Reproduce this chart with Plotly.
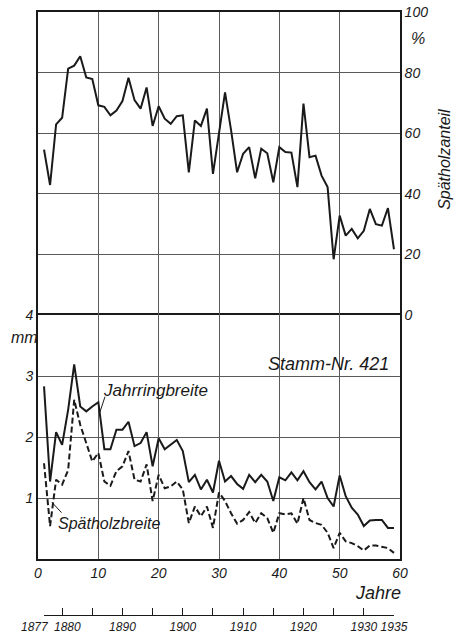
import plotly.graph_objects as go

# ---------------- data ----------------
jahre = list(range(1, 60))

spaetholzanteil = [54.6, 42.9, 62.9, 65.1, 81.3, 82.3, 85.4, 78.4, 77.9, 69.2,
                   68.7, 65.9, 67.5, 70.6, 78.3, 70.9, 68.1, 75.1, 62.4, 68.9,
                   64.8, 63.1, 65.6, 65.9, 47.1, 64.2, 62.4, 68.1, 46.6, 60.0,
                   73.5, 61.0, 47.1, 53.2, 55.4, 45.1, 54.9, 53.4, 43.8, 55.4,
                   53.8, 53.6, 42.2, 69.8, 52.1, 52.6, 46.0, 42.2, 18.4, 32.8,
                   26.2, 28.4, 25.3, 27.8, 35.0, 30.0, 29.5, 35.3, 21.7]

jahrringbreite = [2.83, 1.27, 2.08, 1.87, 2.45, 3.19, 2.50, 2.42, 2.50, 2.57,
                  1.80, 1.80, 2.12, 2.12, 2.25, 1.85, 1.90, 2.08, 1.52, 1.98,
                  1.80, 1.87, 1.95, 1.77, 1.26, 1.38, 1.14, 1.30, 1.09, 1.61,
                  1.27, 1.36, 1.23, 1.15, 1.38, 1.26, 1.38, 1.27, 0.95, 1.34,
                  1.29, 1.42, 1.29, 1.44, 1.26, 1.14, 1.27, 1.00, 0.86, 1.37,
                  1.03, 0.84, 0.73, 0.54, 0.63, 0.64, 0.64, 0.51, 0.51]

spaetholzbreite = [1.57, 0.54, 1.30, 1.22, 1.46, 2.61, 2.20, 1.90, 1.60, 1.74,
                   1.27, 1.20, 1.44, 1.52, 1.77, 1.30, 1.27, 1.55, 0.95, 1.38,
                   1.16, 1.19, 1.27, 1.14, 0.59, 0.86, 0.70, 0.86, 0.51, 1.09,
                   0.95, 0.75, 0.58, 0.64, 0.77, 0.59, 0.75, 0.67, 0.43, 0.75,
                   0.73, 0.75, 0.58, 1.00, 0.64, 0.59, 0.56, 0.43, 0.18, 0.43,
                   0.29, 0.26, 0.21, 0.14, 0.22, 0.22, 0.20, 0.18, 0.10]

jahre_ticks = [0, 10, 20, 30, 40, 50, 60]
mm_ticks = [1, 2, 3, 4]
prozent_ticks = [0, 20, 40, 60, 80, 100]
kalender_ticks = [1877, 1880, 1885, 1890, 1895, 1900, 1905, 1910, 1915, 1920, 1925, 1930, 1935]
kalender_labels = ["", "", "", "1890", "", "1900", "",
                   "1910", "", "1920", "", "1930", "1935"]
# the first two year labels are crowded, so they are set beside their ticks
kalender_extra = [1877, 1880]

# ---------------- style ----------------
FONT = "Liberation Sans, Arial, sans-serif"
INK = "#1a1a1a"
GRID = "#5a5a5a"

def f(size):
    return dict(family=FONT, size=size, color=INK, style="italic")

fig = go.Figure()
fig.add_trace(go.Scatter(x=jahre, y=spaetholzanteil, xaxis="x2", yaxis="y2", mode="lines",
                         line=dict(color=INK, width=2), hoverinfo="skip"))
fig.add_trace(go.Scatter(x=jahre, y=jahrringbreite, xaxis="x", yaxis="y", mode="lines",
                         line=dict(color=INK, width=2), hoverinfo="skip"))
fig.add_trace(go.Scatter(x=jahre, y=spaetholzbreite, xaxis="x", yaxis="y", mode="lines",
                         line=dict(color=INK, width=2, dash="6px,3px"), hoverinfo="skip"))
fig.add_trace(go.Scatter(x=[kalender_ticks[0], kalender_ticks[-1]], y=[0, 0], xaxis="x3", yaxis="y3",
                         mode="markers", marker=dict(opacity=0), hoverinfo="skip"))

H = 639
T, B = 12, 4
ph = H - T - B
def py(pix):
    return (H - B - pix) / ph

y_bottom = py(559)
y_mid = py(315)

grid = dict(showgrid=True, gridcolor=GRID, gridwidth=1, zeroline=False, ticks="", automargin=False)

fig.update_layout(
    template="none",
    width=455, height=639,
    margin=dict(l=38, r=55, t=T, b=B),
    paper_bgcolor="white", plot_bgcolor="white",
    showlegend=False,
    xaxis=dict(domain=[0, 1], range=[0, 60], anchor="y", tickvals=jahre_ticks,
               showline=True, linecolor=INK, linewidth=1.6, mirror=True,
               tickfont=f(14), **grid),
    xaxis2=dict(domain=[0, 1], range=[0, 60], anchor="y2", matches="x", tickvals=jahre_ticks,
                side="top", showline=True, linecolor=INK, linewidth=1.6, mirror=False,
                showticklabels=False, **grid),
    yaxis=dict(domain=[y_bottom, y_mid], range=[0, 4], anchor="x", tickvals=mm_ticks,
               side="left", showline=True, linecolor=INK, linewidth=1.6, mirror=True,
               tickfont=f(14), **grid),
    yaxis2=dict(domain=[y_mid, 1], range=[0, 100], anchor="x2", tickvals=prozent_ticks,
                side="right", showline=True, linecolor=INK, linewidth=1.6, mirror=True,
                tickfont=f(14), **grid),
    yaxis3=dict(domain=[py(615), py(600)], range=[0, 1], anchor="x3", visible=False, automargin=False),
    xaxis3=dict(domain=[1 / 60, 59 / 60], range=[kalender_ticks[0], kalender_ticks[-1]], anchor="y3",
                showline=True, linecolor=INK, linewidth=1.2, showgrid=False, zeroline=False,
                ticks="inside", ticklen=7, tickwidth=1, tickcolor=INK, automargin=False,
                tickvals=kalender_ticks, ticktext=kalender_labels, tickangle=0,
                tickfont=f(12)),
)

ann = [
    dict(text="Stamm-Nr. 421", x=48.2, y=3.19, xref="x", yref="y", font=f(18)),
    dict(text="Jahrringbreite", x=19.4, y=2.76, xref="x", yref="y", font=f(17)),
    dict(text="Spätholzbreite", x=11.7, y=0.59, xref="x", yref="y", font=f(16)),
    dict(text="Jahre", x=(378 - 38) / 362, y=py(593), xref="paper", yref="paper", font=f(18)),
    dict(text="mm", x=(24 - 38) / 362, y=3.63, xref="paper", yref="y", font=f(16)),
    dict(text="%", x=(418 - 38) / 362, y=91.4, xref="paper", yref="y2", font=f(16)),
    dict(text="Spätholzanteil", x=(445 - 38) / 362, y=51.2, xref="paper", yref="y2",
         textangle=-90, font=f(16)),
]
for a in ann:
    a.update(showarrow=False, xanchor="center", yanchor="middle")
for yr, shift in zip(kalender_extra, [-9, 5]):
    ann.append(dict(text=str(yr), x=yr, y=py(627), xref="x3", yref="paper", xshift=shift,
                    showarrow=False, xanchor="center", yanchor="middle", font=f(12)))
fig.update_layout(annotations=ann)

fig.add_shape(type="line", xref="x", yref="y", x0=11.1, y0=2.66, x1=10.2, y1=2.39,
              line=dict(color=INK, width=1))
fig.add_shape(type="line", xref="x", yref="y", x0=2.3, y0=0.93, x1=3.9, y1=0.76,
              line=dict(color=INK, width=1))

fig.write_html("out.html")
